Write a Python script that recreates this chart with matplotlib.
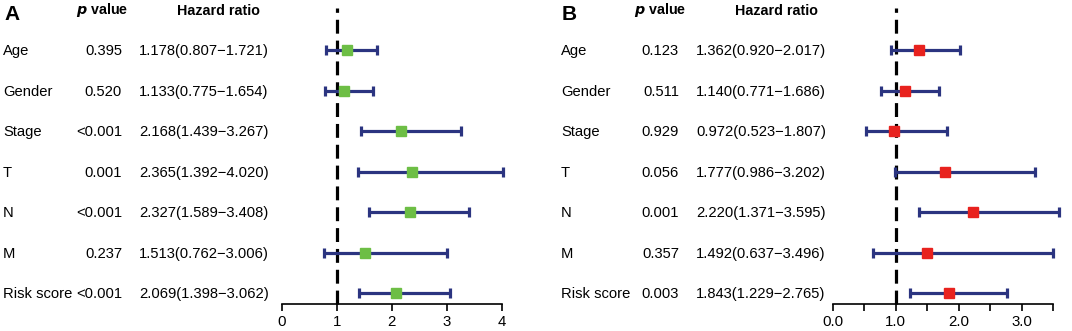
import matplotlib
matplotlib.use("Agg")
import matplotlib.pyplot as plt
from matplotlib.transforms import blended_transform_factory

plt.rcParams['font.family'] = ['Liberation Sans', 'DejaVu Sans']
plt.rcParams['lines.scale_dashes'] = False

variables = ["Age", "Gender", "Stage", "T", "N", "M", "Risk score"]

pvals_A = ["0.395", "0.520", "<0.001", "0.001", "<0.001", "0.237", "<0.001"]
hr_A = [1.178, 1.133, 2.168, 2.365, 2.327, 1.513, 2.069]
lo_A = [0.807, 0.775, 1.439, 1.392, 1.589, 0.762, 1.398]
hi_A = [1.721, 1.654, 3.267, 4.020, 3.408, 3.006, 3.062]

pvals_B = ["0.123", "0.511", "0.929", "0.056", "0.001", "0.357", "0.003"]
hr_B = [1.362, 1.140, 0.972, 1.777, 2.220, 1.492, 1.843]
lo_B = [0.920, 0.771, 0.523, 0.986, 1.371, 0.637, 1.229]
hi_B = [2.017, 1.686, 1.807, 3.202, 3.595, 3.496, 2.765]

ticks_A = [0, 1, 2, 3, 4]
ticklabels_A = ["0", "1", "2", "3", "4"]
ticks_B = [0, 0.5, 1.0, 1.5, 2.0, 2.5, 3.0, 3.5]
ticklabels_B = ["0.0", "", "1.0", "", "2.0", "", "3.0", ""]

W, H = 1072, 331
fig = plt.figure(figsize=(W / 100, H / 100), dpi=100)

NAVY = "#2B3480"
GREEN = "#6DBE45"
RED = "#E8221E"

ROW_TOP = 50.0
ROW_STEP = 40.5
AX_BOTTOM = 304.0
AX_TOP = 8.0
FS = 10.6


def panel(letter, lx, px_right, hr_x, ax_x0, ax_x1, xlim, pvals, hr, lo, hi,
          ticks, ticklabels, color, pcenter, hrcenter):
    ax = fig.add_axes([ax_x0 / W, (H - AX_BOTTOM) / H, (ax_x1 - ax_x0) / W,
                       (AX_BOTTOM - AX_TOP) / H])
    n = len(variables)
    ys = list(range(n))
    ax.set_ylim((AX_BOTTOM - ROW_TOP) / ROW_STEP, (AX_TOP - ROW_TOP) / ROW_STEP)
    ax.set_xlim(*xlim)
    for s in ("top", "right", "left"):
        ax.spines[s].set_visible(False)
    ax.spines["bottom"].set_linewidth(1.2)
    ax.set_yticks([])
    ax.set_xticks(ticks)
    ax.set_xticklabels(ticklabels, fontsize=10.8)
    ax.tick_params(axis="x", length=5, width=1.2, pad=3)
    ax.patch.set_alpha(0)

    ax.axvline(1.0, color="black", lw=2.3, ls=(0, (10, 5)), zorder=1,
               clip_on=False)
    err = [[h - l for h, l in zip(hr, lo)], [u - h for h, u in zip(hr, hi)]]
    ax.errorbar(hr, ys, xerr=err, fmt="none", ecolor=NAVY, elinewidth=2.3,
                capsize=3.6, capthick=2.3, zorder=2, clip_on=False)
    ax.plot(hr, ys, ls="none", marker="s", ms=7.8, color=color, zorder=3,
            clip_on=False)

    tr = blended_transform_factory(fig.transFigure, ax.transData)
    for y, name, p, h, l, u in zip(ys, variables, pvals, hr, lo, hi):
        ax.text(lx / W, y + 0.03, name, transform=tr, ha="left", va="center",
                fontsize=FS)
        ax.text(px_right / W, y + 0.03, p, transform=tr, ha="right",
                va="center", fontsize=FS)
        ax.text(hr_x / W, y + 0.03, f"{h:.3f}({l:.3f}\u2212{u:.3f})",
                transform=tr, ha="left", va="center", fontsize=FS)

    fig.text((lx + 1) / W, 1 - 14 / H, letter, fontsize=15, fontweight="bold",
             ha="left", va="center")
    fig.text(pcenter / W, 1 - 10 / H, r"$\boldsymbol{p}$ value",
             fontsize=10.3, fontweight="bold", ha="center", va="center")
    fig.text(hrcenter / W, 1 - 11 / H, "Hazard ratio", fontsize=10.3,
             fontweight="bold", ha="center", va="center")
    return ax


panel("A", 3, 122, 139, 282, 501.7, (0, 4), pvals_A, hr_A, lo_A, hi_A,
      ticks_A, ticklabels_A, GREEN, 102, 218)
panel("B", 561, 679, 696, 832.7, 1053.3, (0, 3.5), pvals_B, hr_B, lo_B, hi_B,
      ticks_B, ticklabels_B, RED, 660, 776)

fig.savefig("out.png", dpi=100)
